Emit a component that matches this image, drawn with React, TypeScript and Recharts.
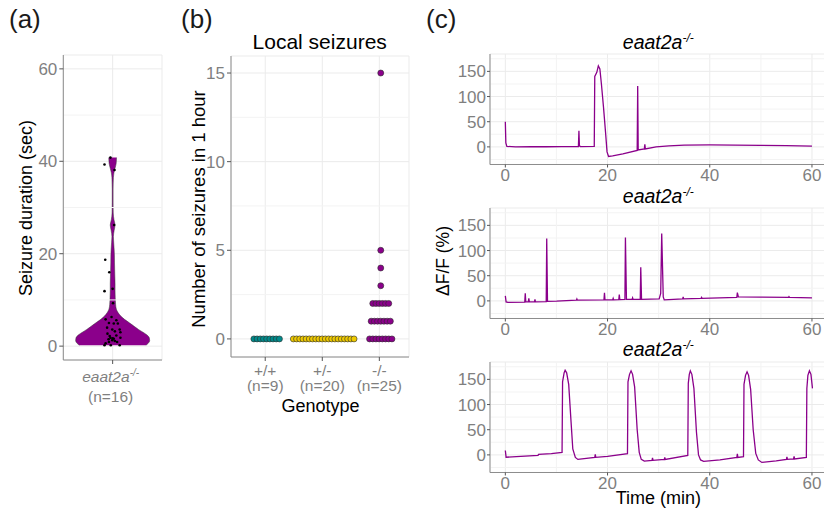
import React from 'react';
import {
  ComposedChart,
  LineChart,
  Line,
  Area,
  Scatter,
  XAxis,
  YAxis,
  CartesianGrid,
  ReferenceLine,
} from 'recharts';

const FONT = '"Liberation Sans", Arial, Helvetica, sans-serif';
const PURPLE = '#8B008B';
const TEAL = '#008B8B';
const GOLD = '#EEC900';
const TICK_GREY = '#7f7f7f';
const BORDER = '#8c8c8c';
const TICK_LINE = '#555555';
const GRID_MAJOR = '#ebebeb';
const GRID_MINOR = '#f3f3f3';

// ---------- (a) seizure duration violin ----------
const violinGroup = 'eaat2a';
const violinFish = 16;
const violinDuration = [0.2, 0.6, 1.2, 1.8, 2.4, 3.0, 3.6, 4.3, 5.0, 5.8, 6.5, 7.2, 8.0, 9.0, 10.5, 12, 13.5, 15, 16.5, 18, 19.5, 21, 22.5, 23.7, 25, 26.2, 27.4, 28.8, 31, 34, 36.5, 37.5, 38.5, 39.5, 40.8];
const violinDensity = [0.9, 0.96, 1.0, 0.99, 0.93, 0.82, 0.7, 0.58, 0.46, 0.32, 0.22, 0.15, 0.1, 0.08, 0.07, 0.065, 0.065, 0.06, 0.055, 0.05, 0.048, 0.04, 0.028, 0.02, 0.04, 0.065, 0.035, 0.016, 0.012, 0.012, 0.02, 0.035, 0.065, 0.095, 0.105];
const jitterDuration = [40.8, 39.3, 38.1, 26.2, 18.7, 16, 12.4, 11.9, 9.3, 6.3, 5.6, 5.8, 5.0, 4.9, 4.9, 4.0, 3.6, 3.6, 3.2, 2.7, 2.3, 3.0, 1.8, 1.6, 1.3, 0.9, 1.1, 1.8, 0.6, 0.2, 0.2, 0.2, 2.2, 0.9, 1.5, 1.7];
const jitterOffset = [-0.06, -0.22, 0.05, 0.04, -0.2, -0.09, 0, -0.22, 0.01, -0.03, 0.1, -0.19, -0.1, 0.03, 0.14, -0.15, -0.01, 0.19, 0.06, -0.14, 0.1, 0.21, -0.06, 0.03, -0.01, -0.1, 0.06, 0.21, -0.19, -0.22, 0.19, -0.05, -0.08, 0.12, -0.11, 0];
const durationTicks = [0, 20, 40, 60];
const durationMinor = [10, 30, 50];

// ---------- (b) local seizures dot plot ----------
const genotypes = ['+/+', '+/-', '-/-'];
const genotypeTicks = [1, 2, 3];
const seizuresWT = [0, 0, 0, 0, 0, 0, 0, 0, 0];
const seizuresHet = [0, 0, 0, 0, 0, 0, 0, 0, 0, 0, 0, 0, 0, 0, 0, 0, 0, 0, 0, 0];
const seizuresHom = [15, 5, 4, 3, 2, 2, 2, 2, 2, 2, 1, 1, 1, 1, 1, 1, 1, 0, 0, 0, 0, 0, 0, 0, 0];
const countTicks = [0, 5, 10, 15];
const countMinor = [2.5, 7.5, 12.5];

// ---------- (c) calcium traces ----------
const timeTicks = [0, 20, 40, 60];
const timeMinor = [10, 30, 50];
const dffTicks = [0, 50, 100, 150];
const dffMinor = [-25, 25, 75, 125, 175];
const traceTitle = 'eaat2a';

const trace1: [number, number][] = [
  [0, 50], [0.1, 8], [0.3, 1], [2, 0], [5, 0.5], [8, 0.3], [11, 0.5], [14.3, 0.5], [14.4, 32], [14.5, 2], [14.7, 0.5],
  [17.4, 0.8], [17.5, 140], [17.9, 148], [18.2, 161], [18.5, 155], [18.8, 125], [19.2, 80], [19.6, 30], [19.9, -10], [20.2, -19],
  [21, -18], [23, -14], [25.8, -7], [25.9, 121], [26.0, -6], [27.2, -4], [27.3, 5], [27.4, -4], [29.5, 0], [32, 2], [35, 3.5],
  [40, 4], [45, 3.5], [50, 3], [55, 2.5], [60, 1.5],
];
const trace2: [number, number][] = [
  [0, 10], [0.15, -2], [0.5, -3], [3.8, -2.5], [3.9, 15], [4.0, -2], [4.5, -2], [4.6, 5], [4.7, -2], [5.7, -2], [5.8, 3], [5.9, -2],
  [8.0, -1.5], [8.1, 124], [8.25, -1], [10, -0.5], [13.9, 1.5], [14.0, 4], [14.1, 1.5], [19.3, 2], [19.4, 16], [19.5, 2],
  [21.0, 2], [21.1, 5], [21.2, 2], [22.2, 2.5], [22.3, 12.5], [22.4, 2.5], [23.4, 3], [23.5, 126], [23.7, 3], [24.8, 3], [24.9, 6], [25.0, 3],
  [26.4, 3], [26.5, 67], [26.65, 3], [30.1, 4], [30.4, 15], [30.6, 134], [30.9, 8], [31.1, 2], [34.7, 4], [34.8, 8], [34.9, 4],
  [38.3, 5], [38.4, 7], [38.5, 5], [45.3, 7], [45.4, 16.5], [45.6, 8], [50, 7.5], [55.4, 7], [55.5, 8.5], [55.6, 7], [60, 6],
];
const trace3: [number, number][] = [
  [0, 8.7], [0.15, -4.7], [3, -3], [6.4, -1], [6.5, 1], [9, 2.5], [11.1, 5], [11.2, 145], [11.5, 163], [11.7, 168], [12.0, 163],
  [12.4, 140], [12.8, 75], [13.2, 12], [13.7, -5], [14.2, -9], [15, -8], [17.5, -5], [17.6, 1], [17.7, -5], [20, -3], [23.9, 2.5],
  [24.0, 145], [24.3, 160], [24.6, 167], [24.9, 160], [25.3, 135], [25.8, 50], [26.2, 5], [26.6, -9], [27.2, -12.5], [28.7, -11],
  [28.8, -6], [28.9, -11], [31.1, -9], [31.2, -5], [31.3, -9], [35.7, -1], [35.8, 142], [36.0, 160], [36.2, 167], [36.5, 160],
  [36.9, 132], [37.4, 45], [37.8, 0], [38.2, -10], [38.8, -13], [42, -10], [45.3, -5], [45.4, 2], [45.5, -5], [46.6, -3.5],
  [46.7, 140], [47.0, 158], [47.3, 165], [47.6, 158], [48.0, 130], [48.5, 50], [49.0, 3], [49.5, -10], [50.2, -15], [53, -12],
  [55.0, -9], [55.1, -4], [55.2, -9], [56.4, -8], [56.5, -3], [56.6, -8], [58.9, -5], [59.0, 132], [59.2, 158], [59.5, 167],
  [59.8, 160], [60.1, 132],
];

// ---------- derived tables ----------
const violinData = violinDuration.map((v, i) => ({ v, band: [-violinDensity[i], violinDensity[i]] }));
const jitterData = jitterDuration.map((v, i) => ({ v, x: jitterOffset[i] }));

const DOT_STEP = 0.056;
const DOT_SHIFT = 0.025;
function dotplot(counts: number[], cat: number) {
  const groups = new Map<number, number>();
  counts.forEach((c) => groups.set(c, (groups.get(c) || 0) + 1));
  const pts: { x: number; y: number }[] = [];
  groups.forEach((n, c) => {
    for (let i = 0; i < n; i++) pts.push({ x: cat + DOT_SHIFT + (i - (n - 1) / 2) * DOT_STEP, y: c });
  });
  return pts;
}
const genotypeCounts = [seizuresWT, seizuresHet, seizuresHom];
const dotsWT = dotplot(seizuresWT, genotypeTicks[0]);
const dotsHet = dotplot(seizuresHet, genotypeTicks[1]);
const dotsHom = dotplot(seizuresHom, genotypeTicks[2]);

const toRows = (t: [number, number][]) => t.map(([time, v]) => ({ t: time, v }));

const yTickStyle = { fill: TICK_GREY, fontSize: 17, fontFamily: FONT };

function ViolinTick(props: any) {
  const { x, y } = props;
  return (
    <g>
      <text x={x - 2} y={y + 16} textAnchor="middle" fill={TICK_GREY} fontSize={15.5} fontFamily={FONT} fontStyle="italic">
        {violinGroup}
        <tspan dy={-6} fontSize={10}>-/-</tspan>
      </text>
      <text x={x - 2} y={y + 36} textAnchor="middle" fill={TICK_GREY} fontSize={15.5} fontFamily={FONT}>
        (n={violinFish})
      </text>
    </g>
  );
}

function GenotypeTick(props: any) {
  const { x, y, payload } = props;
  const i = genotypeTicks.indexOf(payload.value);
  return (
    <g>
      <text x={x} y={y + 13} textAnchor="middle" fill={TICK_GREY} fontSize={15.5} fontFamily={FONT}>
        {genotypes[i]}
      </text>
      <text x={x} y={y + 28} textAnchor="middle" fill={TICK_GREY} fontSize={15.5} fontFamily={FONT}>
        (n={genotypeCounts[i].length})
      </text>
    </g>
  );
}

const dotShape = (fill: string) => (p: any) => (
  <circle cx={p.cx} cy={p.cy} r={3} fill={fill} stroke="#2b2b2b" strokeWidth={0.6} />
);
const jitterShape = (p: any) => <circle cx={p.cx} cy={p.cy} r={1.3} fill="#000" />;

function PanelA() {
  return (
    <div style={{ position: 'absolute', left: 0, top: 0 }}>
      <ComposedChart
        layout="vertical"
        width={172}
        height={440}
        data={violinData}
        margin={{ top: 55, right: 10, bottom: 30, left: 0 }}
      >
        {durationMinor.map((m) => (
          <ReferenceLine key={m} y={m} stroke={GRID_MINOR} strokeWidth={1} />
        ))}
        <CartesianGrid stroke={GRID_MAJOR} />
        <XAxis
          type="number"
          dataKey="x"
          domain={[-1.333, 1.333]}
          ticks={[0]}
          allowDataOverflow
          height={50}
          tickSize={4}
          tickMargin={2}
          axisLine={{ stroke: BORDER }}
          tickLine={{ stroke: TICK_LINE }}
          tick={<ViolinTick />}
        />
        <YAxis
          type="number"
          dataKey="v"
          domain={[-3, 63]}
          ticks={durationTicks}
          allowDataOverflow
          reversed
          width={63.3}
          tickSize={4}
          tickMargin={2}
          axisLine={{ stroke: BORDER }}
          tickLine={{ stroke: TICK_LINE }}
          tick={yTickStyle}
        />
        <XAxis xAxisId="top" orientation="top" type="number" domain={[0, 1]} height={0} tick={false} tickLine={false} axisLine={{ stroke: BORDER }} />
        <YAxis yAxisId="right" orientation="right" type="number" domain={[0, 1]} width={0} tick={false} tickLine={false} axisLine={{ stroke: BORDER }} />
        <Area
          dataKey="band"
          type="monotone"
          fill={PURPLE}
          fillOpacity={1}
          stroke="#3a3a3a"
          strokeWidth={0.5}
          isAnimationActive={false}
        />
        <Scatter data={jitterData} shape={jitterShape} isAnimationActive={false} />
      </ComposedChart>
    </div>
  );
}

function PanelB() {
  return (
    <div style={{ position: 'absolute', left: 190.7, top: 0 }}>
      <ComposedChart width={228} height={440} margin={{ top: 56, right: 10, bottom: 39, left: 0 }}>
        {countMinor.map((m) => (
          <ReferenceLine key={m} y={m} stroke={GRID_MINOR} strokeWidth={1} />
        ))}
        <CartesianGrid stroke={GRID_MAJOR} />
        <XAxis
          type="number"
          dataKey="x"
          domain={[0.4, 3.52]}
          ticks={genotypeTicks}
          allowDataOverflow
          height={44}
          tickSize={4}
          tickMargin={2}
          axisLine={{ stroke: BORDER }}
          tickLine={{ stroke: TICK_LINE }}
          tick={<GenotypeTick />}
        />
        <YAxis
          type="number"
          dataKey="y"
          domain={[-1.02, 15.96]}
          ticks={countTicks}
          allowDataOverflow
          width={40}
          tickSize={4}
          tickMargin={2}
          axisLine={{ stroke: BORDER }}
          tickLine={{ stroke: TICK_LINE }}
          tick={yTickStyle}
        />
        <XAxis xAxisId="top" orientation="top" type="number" domain={[0, 1]} height={0} tick={false} tickLine={false} axisLine={{ stroke: BORDER }} />
        <YAxis yAxisId="right" orientation="right" type="number" domain={[0, 1]} width={0} tick={false} tickLine={false} axisLine={{ stroke: BORDER }} />
        <Scatter data={dotsWT} shape={dotShape(TEAL)} isAnimationActive={false} />
        <Scatter data={dotsHet} shape={dotShape(GOLD)} isAnimationActive={false} />
        <Scatter data={dotsHom} shape={dotShape(PURPLE)} isAnimationActive={false} />
      </ComposedChart>
    </div>
  );
}

function TracePanel({ trace, top }: { trace: [number, number][]; top: number }) {
  return (
    <div style={{ position: 'absolute', left: 429.7, top }}>
      <LineChart width={397.3} height={140.5} data={toRows(trace)} margin={{ top: 5, right: 0, bottom: 0, left: 0 }}>
        {timeMinor.map((m) => (
          <ReferenceLine key={'x' + m} x={m} stroke={GRID_MINOR} strokeWidth={1} />
        ))}
        {dffMinor.map((m) => (
          <ReferenceLine key={'y' + m} y={m} stroke={GRID_MINOR} strokeWidth={1} />
        ))}
        <CartesianGrid stroke={GRID_MAJOR} />
        <XAxis
          type="number"
          dataKey="t"
          domain={[-3, 63]}
          ticks={timeTicks}
          allowDataOverflow
          height={25}
          tickSize={3}
          tickMargin={1}
          axisLine={{ stroke: BORDER }}
          tickLine={{ stroke: TICK_LINE }}
          tick={yTickStyle}
        />
        <YAxis
          type="number"
          domain={[-35, 184.5]}
          ticks={dffTicks}
          allowDataOverflow
          width={60}
          tickSize={3}
          tickMargin={1}
          axisLine={{ stroke: BORDER }}
          tickLine={{ stroke: TICK_LINE }}
          tick={yTickStyle}
        />
        <XAxis xAxisId="top" orientation="top" type="number" domain={[0, 1]} height={0} tick={false} tickLine={false} axisLine={{ stroke: BORDER }} />
        <Line dataKey="v" type="linear" stroke={PURPLE} strokeWidth={1.3} dot={false} isAnimationActive={false} />
      </LineChart>
    </div>
  );
}

function Titles() {
  const t = { fontFamily: FONT } as const;
  const cx = 658.3;
  return (
    <svg width={824} height={513} style={{ position: 'absolute', left: 0, top: 0, pointerEvents: 'none' }}>
      <g {...t} fill="#1a1a1a" fontSize={26}>
        <text x={9} y={28}>(a)</text>
        <text x={181} y={28}>(b)</text>
        <text x={426} y={28}>(c)</text>
      </g>
      <text {...t} x={0} y={0} fontSize={18} fill="#000" textAnchor="middle" dominantBaseline="central" transform="translate(26,208) rotate(-90)">
        Seizure duration (sec)
      </text>
      <text {...t} x={319.7} y={49} fontSize={21} fill="#000" textAnchor="middle">Local seizures</text>
      <text {...t} x={0} y={0} fontSize={18.5} fill="#000" textAnchor="middle" dominantBaseline="central" transform="translate(198,209) rotate(-90)">
        Number of seizures in 1 hour
      </text>
      <text {...t} x={320.5} y={412} fontSize={18} fill="#000" textAnchor="middle">Genotype</text>
      {[49, 203, 356].map((y) => (
        <text key={y} {...t} x={cx} y={y} fontSize={19.5} fill="#000" textAnchor="middle" fontStyle="italic">
          {traceTitle}
          <tspan dy={-7} fontSize={12}>-/-</tspan>
        </text>
      ))}
      <text {...t} x={0} y={0} fontSize={17.5} fill="#000" textAnchor="middle" dominantBaseline="central" transform="translate(443,261) rotate(-90)">
        ΔF/F (%)
      </text>
      <text {...t} x={cx} y={504} fontSize={18} fill="#000" textAnchor="middle">Time (min)</text>
    </svg>
  );
}

export default function App() {
  return (
    <div
      style={{
        position: 'absolute',
        left: 0,
        top: 0,
        width: 824,
        height: 513,
        overflow: 'hidden',
        background: '#fff',
        fontFamily: FONT,
      }}
    >
      <PanelA />
      <PanelB />
      <TracePanel trace={trace1} top={48.5} />
      <TracePanel trace={trace2} top={202.5} />
      <TracePanel trace={trace3} top={356.8} />
      <Titles />
    </div>
  );
}
